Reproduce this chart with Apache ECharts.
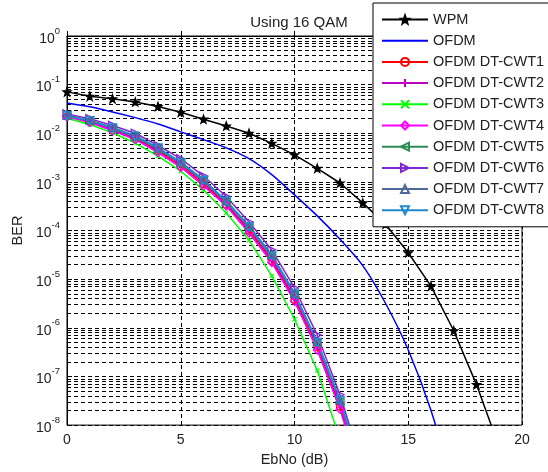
<!DOCTYPE html>
<html>
<head>
<meta charset="utf-8">
<script src="https://cdn.jsdelivr.net/npm/echarts@6/dist/echarts.min.js"></script>
<style>
  html, body { margin: 0; padding: 0; background: #fff; }
  #main { width: 548px; height: 472px; }
</style>
</head>
<body>
<div id="main"></div>
<script>
// EbNo (dB) sample points
var ebnoWpm = [0,1,2,3,4,5,6,7,8,9,10,11,12,13,14,15,16,17,18,19];
var ebnoOfdm = [0,1,2,3,4,5,6,7,8,9,10,11,12,13,14,15,16,17];
var ebnoCwt = [0,1,2,3,4,5,6,7,8,9,10,11,12,13];

// BER values
var berWpm = [7.1e-2,5.75e-2,5.1e-2,4.4e-2,3.55e-2,2.7e-2,1.95e-2,1.41e-2,1.0e-2,6.2e-3,3.6e-3,1.9e-3,9.5e-4,3.7e-4,1.35e-4,3.5e-5,7.2e-6,8.7e-7,6.8e-8,3.5e-9];
var berOfdm = [4.2e-2,3.5e-2,2.75e-2,2.1e-2,1.55e-2,1.07e-2,7.4e-3,5.0e-3,3.0e-3,1.41e-3,5.4e-4,2.0e-4,6.6e-5,1.9e-5,3.2e-6,3.5e-7,2.0e-8,5.0e-10];
var berCwt1 = [2.24e-2,1.7e-2,1.17e-2,7.8e-3,4.3e-3,2.1e-3,9.1e-4,3.4e-4,1.0e-4,2.4e-5,3.8e-6,4.0e-7,2.4e-8,7.9e-10];
var berCwt2 = [2.29e-2,1.74e-2,1.2e-2,8.1e-3,4.5e-3,2.3e-3,9.8e-4,3.6e-4,1.07e-4,2.6e-5,4.3e-6,4.4e-7,2.7e-8,7.9e-10];
var berCwt3 = [2.04e-2,1.51e-2,1.02e-2,6.3e-3,3.4e-3,1.66e-3,6.8e-4,2.3e-4,6.3e-5,1.17e-5,1.5e-6,1.32e-7,5.0e-9,2.0e-10];
var berCwt4 = [2.19e-2,1.66e-2,1.12e-2,7.4e-3,4.0e-3,2.0e-3,8.3e-4,3.2e-4,8.9e-5,2.2e-5,3.5e-6,3.5e-7,2.1e-8,6.3e-10];
var berCwt5 = [2.34e-2,1.82e-2,1.26e-2,8.5e-3,4.7e-3,2.4e-3,1.05e-3,3.8e-4,1.15e-4,2.9e-5,4.8e-6,4.8e-7,3.0e-8,1.0e-9];
var berCwt6 = [2.5e-2,2.0e-2,1.45e-2,1.0e-2,5.6e-3,3.0e-3,1.32e-3,5.0e-4,1.5e-4,4.0e-5,6.6e-6,7.1e-7,4.2e-8,1.3e-9];
var berCwt7 = [2.34e-2,1.86e-2,1.32e-2,8.9e-3,4.9e-3,2.6e-3,1.1e-3,4.1e-4,1.26e-4,3.2e-5,5.2e-6,5.2e-7,3.3e-8,1.0e-9];
var berCwt8 = [2.29e-2,1.82e-2,1.29e-2,8.7e-3,5.0e-3,2.5e-3,1.07e-3,4.0e-4,1.2e-4,3.0e-5,5.0e-6,5.0e-7,3.2e-8,1.0e-9];

var decades = [-8,-7,-6,-5,-4,-3,-2,-1];
var minorMultiples = [2,3,4,5,6,7,8,9];

var FONT = 'Liberation Sans, Arial, sans-serif';
var STAR = 'path://M0,-10L2.4,-3.3L9.5,-3.1L3.9,1.3L5.9,8.1L0,4.1L-5.9,8.1L-3.9,1.3L-9.5,-3.1L-2.4,-3.3Z';
var PLUS = 'path://M5,0V10M0,5H10';
var CROSS = 'path://M0,0L10,10M10,0L0,10';

function pairs(xs, ys) {
  return xs.map(function (x, i) { return [x, ys[i]]; });
}

// minor log grid lines (2..9 x 10^k), placed on a hidden linear axis in log10 units
var minorLines = [];
decades.forEach(function (d) {
  minorMultiples.forEach(function (m) {
    minorLines.push({ yAxis: d + Math.log10(m) });
  });
});

function lineSeries(name, xs, ys, color, symbol, size, rotate, width, filled) {
  return {
    name: name,
    type: 'line',
    data: pairs(xs, ys),
    clip: true,
    color: color,
    symbol: symbol,
    symbolSize: size,
    symbolRotate: rotate || 0,
    lineStyle: { color: color, width: width || 1.5 },
    itemStyle: { color: filled ? color : 'rgba(255,255,255,0)', borderColor: color, borderWidth: 1.3 },
    emphasis: { disabled: true },
    z: 3
  };
}

var ofdm = lineSeries('OFDM', ebnoOfdm, berOfdm, '#0000ff', 'circle', 0, 0, 1.5, false);
ofdm.showSymbol = false;
ofdm.smooth = 0.3;
ofdm.itemStyle = { color: 'rgba(0,0,0,0)', borderColor: 'rgba(0,0,0,0)', borderWidth: 0 };

var myChart = echarts.init(document.getElementById('main'));
var option = {
  backgroundColor: '#fff',
  animation: false,
  textStyle: { fontFamily: FONT },
  title: {
    text: 'Using 16 QAM',
    left: 294,
    top: 10,
    textAlign: 'center',
    textStyle: { fontFamily: FONT, fontSize: 15, fontWeight: 'normal', color: '#222' }
  },
  grid: {
    left: 67, right: 26, top: 36, bottom: 46,
    show: true, borderColor: '#000', borderWidth: 1, backgroundColor: '#fff'
  },
  legend: {
    orient: 'vertical',
    left: 373,
    top: 3,
    z: 20,
    padding: [9, 30, 9, 8],
    itemWidth: 46,
    itemHeight: 10,
    itemGap: 6.2,
    backgroundColor: '#fff',
    borderColor: '#000',
    borderWidth: 1,
    textStyle: { fontFamily: FONT, fontSize: 14.5, lineHeight: 15, color: '#222' },
    data: ['WPM','OFDM','OFDM DT-CWT1','OFDM DT-CWT2','OFDM DT-CWT3','OFDM DT-CWT4','OFDM DT-CWT5','OFDM DT-CWT6','OFDM DT-CWT7','OFDM DT-CWT8']
  },
  xAxis: {
    type: 'value',
    min: 0, max: 20, interval: 5,
    name: 'EbNo (dB)',
    nameLocation: 'middle',
    nameGap: 25,
    nameTextStyle: { fontFamily: FONT, fontSize: 14.5, color: '#222' },
    axisLine: { show: true, lineStyle: { color: '#000' } },
    axisTick: { show: true, inside: true, length: 5, lineStyle: { color: '#000' } },
    axisLabel: { fontFamily: FONT, fontSize: 14, color: '#222', margin: 8 },
    splitLine: { show: true, lineStyle: { color: '#000', type: [4, 3], width: 1 } }
  },
  yAxis: [
    {
      type: 'log',
      logBase: 10,
      min: 1e-8, max: 1,
      splitNumber: 8,
      name: 'BER',
      nameLocation: 'middle',
      nameGap: 36,
      nameTextStyle: { fontFamily: FONT, fontSize: 14.5, color: '#222' },
      axisLine: { show: true, lineStyle: { color: '#000' } },
      axisTick: { show: true, inside: true, length: 5, lineStyle: { color: '#000' } },
      axisLabel: {
        margin: 7,
        showMinLabel: true,
        showMaxLabel: true,
        formatter: function (v) {
          var e = Math.round(Math.log10(v));
          return '{b|10}{e|' + e + '}';
        },
        rich: {
          b: { fontFamily: FONT, fontSize: 14, color: '#222', lineHeight: 20, verticalAlign: 'bottom' },
          e: { fontFamily: FONT, fontSize: 9.5, color: '#222', lineHeight: 12, verticalAlign: 'top' }
        }
      },
      splitLine: { show: true, lineStyle: { color: '#000', type: [4, 3], width: 1 } }
    },
    {
      type: 'value',
      min: -8, max: 0,
      show: false,
      splitLine: { show: false }
    }
  ],
  series: [
    {
      name: 'grid-minor',
      type: 'line',
      yAxisIndex: 1,
      data: [],
      silent: true,
      z: 1,
      markLine: {
        silent: true,
        z: 1,
        symbol: 'none',
        label: { show: false },
        animation: false,
        lineStyle: { color: '#000', type: [4, 3], width: 1 },
        data: minorLines
      }
    },
    lineSeries('WPM', ebnoWpm, berWpm, '#000000', STAR, 8, 0, 1.5, true),
    ofdm,
    lineSeries('OFDM DT-CWT1', ebnoCwt, berCwt1, '#ff0000', 'circle', 7, 0, 1.5, false),
    lineSeries('OFDM DT-CWT2', ebnoCwt, berCwt2, '#bf00bf', PLUS, 9, 0, 1.5, false),
    lineSeries('OFDM DT-CWT3', ebnoCwt, berCwt3, '#00ff00', CROSS, 4, 0, 1.5, false),
    lineSeries('OFDM DT-CWT4', ebnoCwt, berCwt4, '#ff00ff', 'diamond', 8, 0, 1.5, false),
    lineSeries('OFDM DT-CWT5', ebnoCwt, berCwt5, '#2e8b57', 'triangle', 8, 90, 1.5, false),
    lineSeries('OFDM DT-CWT6', ebnoCwt, berCwt6, '#7f28d0', 'triangle', 8, -90, 1.5, false),
    lineSeries('OFDM DT-CWT7', ebnoCwt, berCwt7, '#50689a', 'triangle', 8, 0, 1.5, false),
    lineSeries('OFDM DT-CWT8', ebnoCwt, berCwt8, '#2288cc', 'triangle', 8, 180, 2, false)
  ]
};
option && myChart.setOption(option);
</script>
</body>
</html>
